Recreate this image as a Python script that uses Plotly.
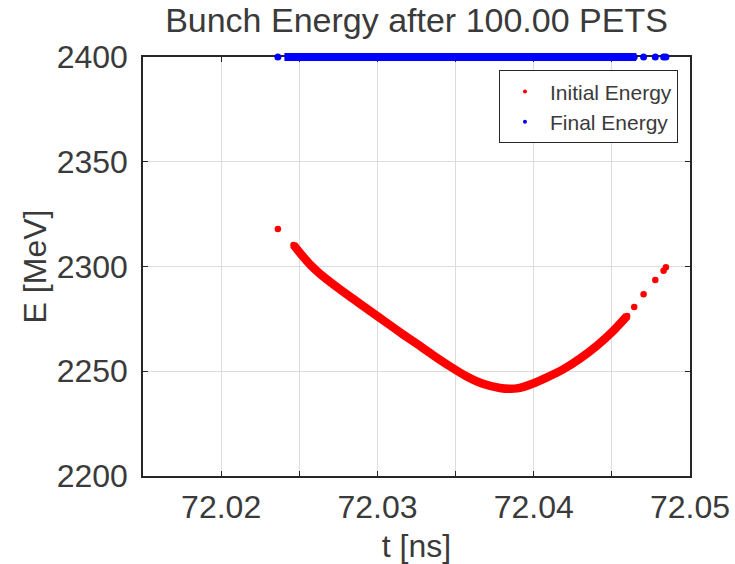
import plotly.graph_objects as go

# ---- data ----
# dense (continuous) part of the bunch
t_core = [72.02463, 72.02521, 72.02572, 72.02630, 72.02739, 72.02842, 72.02951,
          72.03060, 72.03162, 72.03252, 72.03354, 72.03463, 72.03572, 72.03675,
          72.03784, 72.03848, 72.03893, 72.03996, 72.04085, 72.04188, 72.04297,
          72.04406, 72.04508, 72.04598]
e_init_core = [2310.3, 2305.0, 2300.7, 2296.7, 2290.3, 2284.7, 2278.9,
               2273.1, 2267.7, 2263.1, 2257.8, 2252.4, 2247.5, 2244.0,
               2242.0, 2241.6, 2241.8, 2244.2, 2247.1, 2250.9, 2256.1,
               2262.3, 2269.2, 2276.4]
e_final_core = [2400.0] * len(t_core)

# sparse particles at the head and tail of the bunch
t_tail = [72.02363, 72.04643, 72.04703, 72.04778, 72.04831, 72.04846]
e_init_tail = [2317.9, 2280.7, 2286.7, 2293.6, 2298.0, 2299.6]
e_final_tail = [2400.0, 2400.0, 2400.0, 2400.0, 2400.0, 2400.0]

x_tickvals = [72.015, 72.02, 72.025, 72.03, 72.035, 72.04, 72.045, 72.05]
x_ticktext = ["", "72.02", "", "72.03", "", "72.04", "", "72.05"]
y_tickvals = [2200, 2250, 2300, 2350, 2400]

title_text = "Bunch Energy after 100.00 PETS"

RED = "#ff0000"
BLUE = "#0000ff"
AX = "#262626"
TXT = "#3a3a3a"
FONT = "Liberation Sans, Arial, sans-serif"

fig = go.Figure()

# Final energy: band along the top of the axes (unclipped)
fig.add_trace(go.Scatter(x=t_core, y=e_final_core, mode="markers",
                         marker=dict(symbol="line-ew", size=13, color=BLUE,
                                     line=dict(color=BLUE, width=8)),
                         showlegend=False, cliponaxis=False, hoverinfo="skip"))
fig.add_trace(go.Scatter(x=t_tail, y=e_final_tail, mode="markers",
                         marker=dict(color=BLUE, size=7),
                         showlegend=False, cliponaxis=False))

# Initial energy: continuous band + individual particles
fig.add_trace(go.Scatter(x=t_core, y=e_init_core, mode="lines",
                         line=dict(color=RED, width=8.5, shape="spline", smoothing=0.8),
                         showlegend=False, hoverinfo="skip"))
fig.add_trace(go.Scatter(x=t_core + t_tail, y=e_init_core + e_init_tail,
                         mode="markers", marker=dict(color=RED, size=6.5),
                         showlegend=False, cliponaxis=False))

# legend entries
fig.add_trace(go.Scatter(x=[None], y=[None], mode="markers", name="Initial Energy",
                         marker=dict(color=RED, size=4)))
fig.add_trace(go.Scatter(x=[None], y=[None], mode="markers", name="Final Energy",
                         marker=dict(color=BLUE, size=4)))

axis_common = dict(
    showline=True, linecolor=AX, linewidth=1.5, mirror="ticks",
    ticks="inside", ticklen=5, tickwidth=1.2, tickcolor=AX,
    showgrid=True, gridcolor="#dcdcdc", gridwidth=1, zeroline=False,
    tickfont=dict(family=FONT, size=32, color=TXT),
    layer="below traces",
)

fig.update_xaxes(range=[72.015, 72.05], tickmode="array",
                 tickvals=x_tickvals, ticktext=x_ticktext,
                 title=dict(text="t [ns]", font=dict(family=FONT, size=32, color=TXT),
                            standoff=12),
                 ticklabelstandoff=2, **axis_common)
fig.update_yaxes(range=[2200, 2400], tickmode="array", tickvals=y_tickvals,
                 title=dict(text="E [MeV]", font=dict(family=FONT, size=32, color=TXT),
                            standoff=0),
                 ticklabelstandoff=7, **axis_common)

fig.update_layout(
    width=735, height=564,
    margin=dict(l=143, r=45, t=57, b=88, autoexpand=False),
    paper_bgcolor="white", plot_bgcolor="white",
    title=dict(text=title_text, x=0.5, xanchor="center", xref="paper",
               y=1 - 20 / 564, yanchor="middle",
               font=dict(family=FONT, size=34, color=TXT)),
    legend=dict(x=0.978, xanchor="right", y=0.968, yanchor="top",
                bgcolor="white", bordercolor=AX, borderwidth=1,
                font=dict(family=FONT, size=21, color=TXT),
                itemwidth=40, tracegroupgap=0),
    showlegend=True,
)

fig.write_html("out.html")
